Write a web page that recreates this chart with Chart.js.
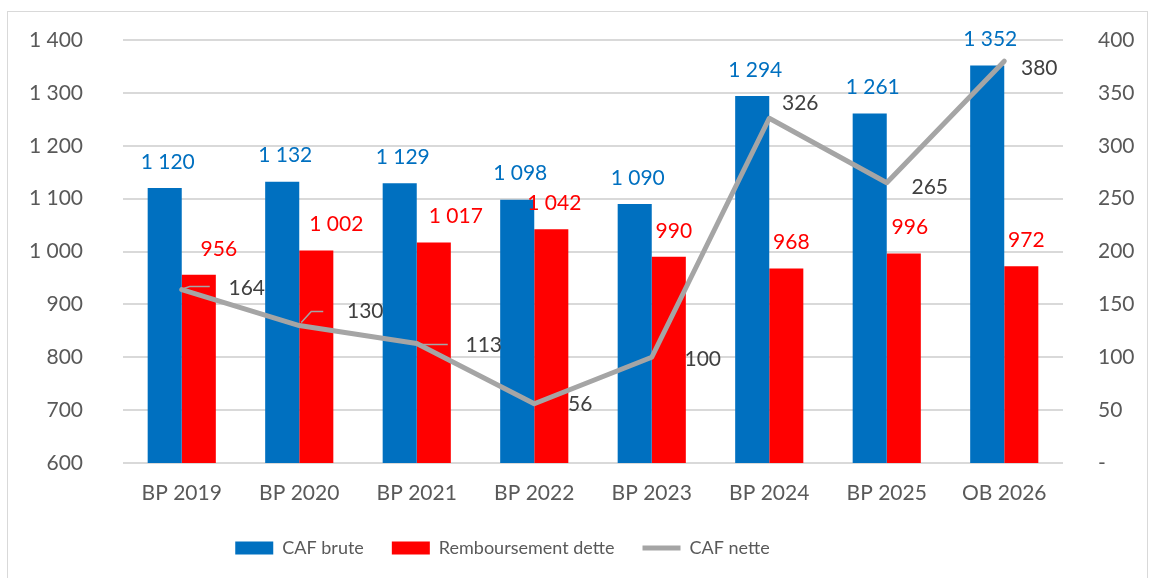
<!DOCTYPE html>
<html><head><meta charset="utf-8">
<script src="https://cdn.jsdelivr.net/npm/chart.js@4.4.1/dist/chart.umd.min.js"></script>
<style>
html,body{margin:0;padding:0;background:#fff;overflow:hidden;}
#frame{position:absolute;left:7px;top:11px;width:1139px;height:620px;border:1px solid #D9D9D9;}
#wrap{position:absolute;left:0;top:0;width:1155px;height:578px;}
</style></head><body>
<div id="frame"></div>
<div id="wrap"><canvas id="c" width="1155" height="578"></canvas></div>
<script>
const categories = ['BP 2019','BP 2020','BP 2021','BP 2022','BP 2023','BP 2024','BP 2025','OB 2026'];
const cafBrute = [1120, 1132, 1129, 1098, 1090, 1294, 1261, 1352];
const remboursement = [956, 1002, 1017, 1042, 990, 968, 996, 972];
const cafNette = [164, 130, 113, 56, 100, 326, 265, 380];
const seriesNames = ['CAF brute', 'Remboursement dette', 'CAF nette'];

// style: label placement offsets (px)
const redLabelDx = [20, 20, 22, 3, 5, 5, 6, 5];
const lineLabelOffsets = [[65,-1],[66,-14],[67,2],[46,0],[51,2],[31,-15],[43,4],[35,7]];
const leaderPaths = {0: [[2,-1],[8,-3],[28,-3]], 1: [[2,-3],[12,-14],[24,-14]], 2: [[1,1],[31,1]]};

const BLUE = '#0070C0', RED = '#FF0000', GRAY = '#A5A5A5';
const FONT = 'Lato';

function fmt(v){
  v = Math.round(v);
  if (Math.abs(v) >= 1000) return Math.floor(v/1000) + ' ' + String(v % 1000).padStart(3,'0');
  return String(v);
}

const labelPlugin = {
  id: 'valueLabels',
  afterDatasetsDraw(chart){
    const ctx = chart.ctx;
    ctx.save();
    ctx.font = '21px ' + FONT;
    ctx.textAlign = 'center';
    ctx.textBaseline = 'middle';
    const mb = chart.getDatasetMeta(0), mr = chart.getDatasetMeta(1), ml = chart.getDatasetMeta(2);
    mb.data.forEach((el, i) => {
      ctx.fillStyle = BLUE;
      ctx.fillText(fmt(cafBrute[i]), el.x + 3, el.y - 26);
    });
    mr.data.forEach((el, i) => {
      ctx.fillStyle = RED;
      ctx.fillText(fmt(remboursement[i]), el.x + redLabelDx[i], el.y - 26);
    });
    ml.data.forEach((el, i) => {
      const p = leaderPaths[i];
      if (p) {
        ctx.strokeStyle = GRAY; ctx.lineWidth = 1.5;
        ctx.beginPath();
        p.forEach((q, k) => { if (k === 0) ctx.moveTo(el.x + q[0], el.y + q[1]); else ctx.lineTo(el.x + q[0], el.y + q[1]); });
        ctx.stroke();
      }
      ctx.fillStyle = '#404040';
      const o = lineLabelOffsets[i];
      ctx.fillText(fmt(cafNette[i]), el.x + o[0], el.y + o[1]);
    });
    ctx.restore();
  }
};

const legendShift = {
  id: 'legendShift',
  afterLayout(chart){
    const lg = chart.legend;
    if (!lg || !lg.lineWidths) return;
    const pad = lg.options.labels.padding;
    const startX = (lg.left + pad + lg.right - lg.lineWidths[0]) / 2;
    const itemsWidth = lg.lineWidths[0] - pad;
    const shift = (502.5 - itemsWidth / 2) - startX;
    lg.left += shift; lg.right += shift;
  }
};

const tickFont = {family: FONT, size: 21};

new Chart(document.getElementById('c'), {
  type: 'bar',
  data: {
    labels: categories,
    datasets: [
      {label: seriesNames[0], data: cafBrute, backgroundColor: BLUE, borderWidth: 0, pointStyle: 'rect', yAxisID: 'y', order: 2, categoryPercentage: 0.58, barPercentage: 1},
      {label: seriesNames[1], data: remboursement, backgroundColor: RED, borderWidth: 0, pointStyle: 'rect', yAxisID: 'y', order: 2, categoryPercentage: 0.58, barPercentage: 1},
      {label: seriesNames[2], data: cafNette, type: 'line', borderColor: GRAY, backgroundColor: GRAY, borderWidth: 5, pointRadius: 0, pointHoverRadius: 0, pointStyle: 'line', borderCapStyle: 'round', borderJoinStyle: 'round', tension: 0, yAxisID: 'y1', order: 1}
    ]
  },
  options: {
    responsive: false,
    animation: false,
    devicePixelRatio: 1,
    layout: {padding: {top: 40, left: 0, right: 0, bottom: 11}},
    plugins: {
      tooltip: {enabled: false},
      legend: {
        position: 'bottom',
        labels: {
          usePointStyle: true,
          pointStyleWidth: 38,
          boxWidth: 38,
          boxHeight: 13,
          padding: 28,
          color: '#595959',
          font: {family: FONT, size: 18},
          sort: (a, b) => a.datasetIndex - b.datasetIndex
        }
      }
    },
    scales: {
      x: {
        grid: {display: false, drawTicks: false},
        border: {display: false},
        ticks: {font: tickFont, color: '#595959', padding: 18, maxRotation: 0},
        afterFit(s){ s.height = 48; }
      },
      y: {
        position: 'left',
        min: 600, max: 1400,
        ticks: {stepSize: 100, padding: 40, font: tickFont, color: '#595959', callback: v => fmt(v)},
        grid: {color: '#D9D9D9', lineWidth: 2, drawTicks: false},
        border: {display: false},
        afterFit(s){ s.width = 123; s.paddingTop = 12; s.paddingBottom = 12; }
      },
      y1: {
        position: 'right',
        min: 0, max: 400,
        ticks: {stepSize: 50, padding: 35, font: tickFont, color: '#595959', callback: v => v === 0 ? '-' : fmt(v)},
        grid: {display: false, drawTicks: false},
        border: {display: false},
        afterFit(s){ s.width = 92; s.paddingTop = 12; s.paddingBottom = 12; }
      }
    }
  },
  plugins: [labelPlugin, legendShift]
});
</script>
</body></html>
